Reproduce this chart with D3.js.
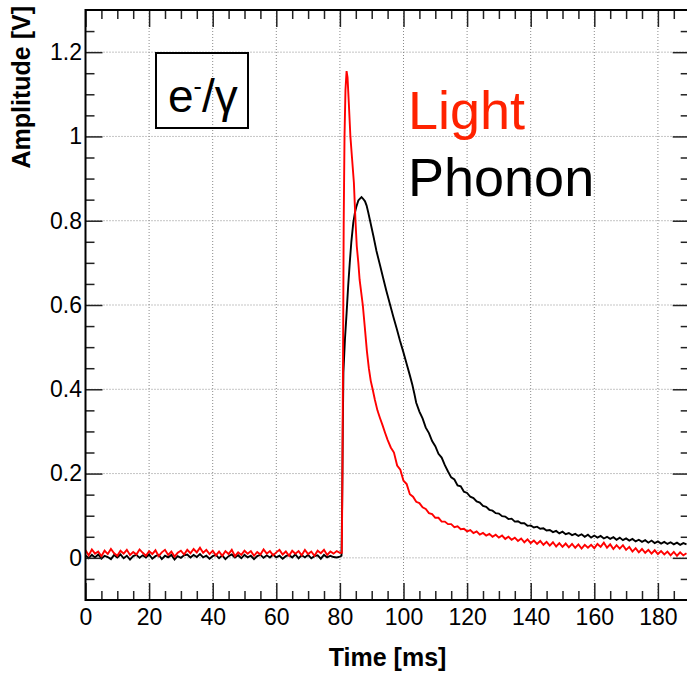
<!DOCTYPE html>
<html>
<head>
<meta charset="utf-8">
<script src="https://cdn.jsdelivr.net/npm/d3@7"></script>
<style>
    body { margin: 0; background: #fff; }
    text { font-family: "Liberation Sans", Arial, Helvetica, sans-serif; }
    .tick line { stroke: #222; stroke-width: 1.5; }
    .tick text { font-size: 23px; fill: #000; }
    .domain { display: none; }
</style>
</head>
<body>
<div id="chart"></div>
<script>
// axis ticks
const xMajor = [0, 20, 40, 60, 80, 100, 120, 140, 160, 180];
const xTickLabels = ["0", "20", "40", "60", "80", "100", "120", "140", "160", "180"];
const xMinor = [5, 10, 15, 25, 30, 35, 45, 50, 55, 65, 70, 75, 85, 90, 95, 105, 110, 115,
    125, 130, 135, 145, 150, 155, 165, 170, 175, 185];
const yMajor = [0, 0.2, 0.4, 0.6, 0.8, 1, 1.2];
const yTickLabels = ["0", "0.2", "0.4", "0.6", "0.8", "1", "1.2"];
const yMinor = [-0.05, 0.05, 0.1, 0.15, 0.25, 0.3, 0.35, 0.45, 0.5, 0.55, 0.65, 0.7, 0.75,
    0.85, 0.9, 0.95, 1.05, 1.1, 1.15, 1.25];

// light channel (red): baseline sampled every 1 ms from t = 0
const lightBase = [
    0.018, 0.006, 0.020, 0.010, 0.015, 0.004, 0.017, 0.009, 0.021, 0.011,
    0.005, 0.017, 0.010, 0.019, 0.007, 0.014, 0.008, 0.020, 0.012, 0.005,
    0.016, 0.009, 0.018, 0.004, 0.013, 0.019, 0.007, 0.015, 0.003, 0.012,
    0.017, 0.008, 0.019, 0.011, 0.021, 0.013, 0.024, 0.012, 0.019, 0.009,
    0.017, 0.006, 0.015, 0.005, 0.016, 0.009, 0.019, 0.004, 0.013, 0.007,
    0.017, 0.010, 0.016, 0.005, 0.014, 0.008, 0.020, 0.010, 0.016, 0.006,
    0.013, 0.019, 0.008, 0.015, 0.005, 0.017, 0.010, 0.016, 0.006, 0.019,
    0.009, 0.015, 0.005, 0.017, 0.011, 0.019, 0.007, 0.015, 0.010, 0.016,
    0.012];
// light pulse [t, V]
const lightPulse = [
    [80.6, 0.012], [80.8, 0.2], [81.0, 0.5], [81.2, 0.8], [81.45, 1.0], [81.75, 1.11],
    [82.1, 1.155], [82.4, 1.14], [82.8, 1.08], [83.3, 1.0], [83.8, 0.95], [84.4, 0.89],
    [84.9, 0.80], [85.3, 0.74], [85.8, 0.70], [86.2, 0.66], [86.7, 0.63], [87.2, 0.60],
    [87.8, 0.55], [88.5, 0.49], [89.1, 0.45], [89.7, 0.42], [90.3, 0.40], [91.0, 0.375],
    [91.8, 0.35], [92.6, 0.332], [93.4, 0.315], [94.2, 0.297], [95.0, 0.28]];
// light tail, every 1 ms from t = 96
const lightTailStart = 96;
const lightTail = [
    0.262, 0.250, 0.219, 0.209, 0.183, 0.175, 0.151, 0.145, 0.133, 0.130,
    0.120, 0.116, 0.106, 0.104, 0.095, 0.095, 0.086, 0.086, 0.080, 0.080,
    0.073, 0.075, 0.068, 0.069, 0.063, 0.066, 0.059, 0.063, 0.055, 0.059,
    0.053, 0.057, 0.050, 0.055, 0.048, 0.053, 0.045, 0.050, 0.043, 0.048,
    0.040, 0.046, 0.037, 0.044, 0.035, 0.041, 0.033, 0.040, 0.031, 0.038,
    0.029, 0.037, 0.027, 0.035, 0.026, 0.034, 0.025, 0.033, 0.024, 0.032,
    0.022, 0.031, 0.024, 0.031, 0.023, 0.033, 0.026, 0.036, 0.024, 0.032,
    0.021, 0.030, 0.022, 0.030, 0.019, 0.026, 0.015, 0.023, 0.013, 0.021,
    0.012, 0.019, 0.010, 0.018, 0.009, 0.016, 0.008, 0.015, 0.006, 0.014,
    0.005, 0.013, 0.006, 0.011];

// phonon channel (black)
const phononBase = [
    0.006, -0.001, 0.007, 0.001, 0.008, -0.002, 0.005, 0.002, -0.003, 0.007,
    0.001, 0.008, -0.001, 0.005, -0.004, 0.004, 0.007, 0.000, 0.006, 0.001,
    0.008, -0.002, 0.004, 0.007, -0.003, 0.005, 0.001, 0.007, -0.004, 0.004,
    0.000, 0.006, 0.008, 0.001, 0.007, 0.002, 0.009, 0.001, 0.005, -0.002,
    0.004, 0.007, -0.001, 0.006, -0.003, 0.004, 0.008, 0.001, 0.006, -0.001,
    0.007, 0.001, 0.005, -0.003, 0.004, 0.007, 0.000, 0.006, 0.001, 0.008,
    0.001, 0.005, -0.002, 0.004, 0.007, 0.001, 0.008, -0.001, 0.006, 0.001,
    0.007, -0.001, 0.004, 0.006, -0.002, 0.007, 0.001, 0.005, 0.002, 0.001,
    0.003];
const phononPulse = [
    [80.5, 0.005], [80.7, 0.12], [80.9, 0.3], [81.1, 0.44], [81.6, 0.52], [82.1, 0.58],
    [82.6, 0.645], [83.1, 0.70], [83.6, 0.75], [84.2, 0.795], [84.7, 0.818], [85.2, 0.834],
    [85.8, 0.848], [86.4, 0.853], [86.8, 0.856], [87.3, 0.852], [87.9, 0.846], [88.4, 0.836],
    [88.9, 0.82], [89.4, 0.803], [90.5, 0.765], [91.5, 0.728], [92.6, 0.695], [93.6, 0.664],
    [94.6, 0.634], [95.7, 0.603], [96.8, 0.572], [97.9, 0.543], [98.9, 0.515], [100.0, 0.487],
    [101.0, 0.46], [102.0, 0.433], [102.8, 0.41], [103.4, 0.39]];
const phononTailStart = 104;
const phononTail = [
    0.368, 0.347, 0.331, 0.309, 0.296, 0.277, 0.265, 0.247, 0.238, 0.220,
    0.205, 0.191, 0.186, 0.172, 0.170, 0.157, 0.154, 0.145, 0.142, 0.134,
    0.131, 0.123, 0.121, 0.114, 0.112, 0.106, 0.105, 0.099, 0.098, 0.092,
    0.093, 0.086, 0.087, 0.082, 0.082, 0.076, 0.077, 0.072, 0.074, 0.069,
    0.070, 0.065, 0.066, 0.061, 0.064, 0.058, 0.062, 0.056, 0.059, 0.054,
    0.057, 0.052, 0.056, 0.050, 0.055, 0.048, 0.053, 0.048, 0.052, 0.046,
    0.050, 0.045, 0.049, 0.043, 0.048, 0.042, 0.046, 0.041, 0.045, 0.039,
    0.043, 0.038, 0.042, 0.036, 0.041, 0.035, 0.039, 0.034, 0.038, 0.033,
    0.037, 0.032, 0.036, 0.031, 0.035, 0.032];

// glue the pieces of one trace together as [t, V] pairs
function trace(base, pulse, tailStart, tail) {
    let pts = base.map((v, i) => [i, v]);
    pts = pts.concat(pulse);
    pts = pts.concat(tail.map((v, i) => [tailStart + i, v]));
    return pts;
}
const lightData = trace(lightBase, lightPulse, lightTailStart, lightTail);
const phononData = trace(phononBase, phononPulse, phononTailStart, phononTail);

// canvas
const W = 687, H = 675;
const margin = {top: 10, left: 85.5};
const width = 604.2, height = 590;

const svg = d3.select("#chart").append("svg")
    .attr("width", W).attr("height", H);

const x = d3.scaleLinear().domain([0, 190]).range([margin.left, margin.left + width]);
const y = d3.scaleLinear().domain([-0.1, 1.3]).range([margin.top + height, margin.top]);

// dotted grid
svg.append("g").selectAll("line")
    .data(xMajor.slice(1))
    .join("line")
    .attr("x1", d => x(d)).attr("x2", d => x(d))
    .attr("y1", y(1.3)).attr("y2", y(-0.1))
    .attr("stroke", "#8a8a8a").attr("stroke-width", 1).attr("stroke-dasharray", "1,2");
svg.append("g").selectAll("line")
    .data(yMajor)
    .join("line")
    .attr("x1", x(0)).attr("x2", x(190))
    .attr("y1", d => y(d)).attr("y2", d => y(d))
    .attr("stroke", "#8a8a8a").attr("stroke-width", 1).attr("stroke-dasharray", "1,2");

// traces
const line = d3.line().x(d => x(d[0])).y(d => y(d[1]));
svg.append("path").datum(phononData)
    .attr("d", line).attr("fill", "none")
    .attr("stroke", "#000").attr("stroke-width", 1.9);
svg.append("path").datum(lightData)
    .attr("d", line).attr("fill", "none")
    .attr("stroke", "#ff0000").attr("stroke-width", 1.9);

// axes, ticks pointing inwards on all four sides
svg.append("g").attr("transform", `translate(0,${y(-0.1)})`)
    .call(d3.axisBottom(x).tickValues(xMajor).tickSize(-17).tickPadding(9)
        .tickFormat((d, i) => xTickLabels[i]));
svg.append("g").attr("transform", `translate(0,${y(-0.1)})`)
    .call(d3.axisBottom(x).tickValues(xMinor).tickSize(-9).tickFormat(""));
svg.append("g").attr("transform", `translate(0,${y(1.3)})`)
    .call(d3.axisTop(x).tickValues(xMajor).tickSize(-17).tickFormat(""));
svg.append("g").attr("transform", `translate(0,${y(1.3)})`)
    .call(d3.axisTop(x).tickValues(xMinor).tickSize(-9).tickFormat(""));

svg.append("g").attr("transform", `translate(${x(0)},0)`)
    .call(d3.axisLeft(y).tickValues(yMajor).tickSize(-17).tickPadding(3.5)
        .tickFormat((d, i) => yTickLabels[i]));
svg.append("g").attr("transform", `translate(${x(0)},0)`)
    .call(d3.axisLeft(y).tickValues(yMinor).tickSize(-9).tickFormat(""));
svg.append("g").attr("transform", `translate(${x(190)},0)`)
    .call(d3.axisRight(y).tickValues(yMajor).tickSize(-17).tickFormat(""));
svg.append("g").attr("transform", `translate(${x(190)},0)`)
    .call(d3.axisRight(y).tickValues(yMinor).tickSize(-9).tickFormat(""));

// frame
svg.append("rect")
    .attr("x", x(0)).attr("y", y(1.3))
    .attr("width", x(190) - x(0)).attr("height", y(-0.1) - y(1.3))
    .attr("fill", "none").attr("stroke", "#000").attr("stroke-width", 2);

// axis titles
svg.append("text")
    .attr("x", (x(0) + x(190)) / 2).attr("y", 666)
    .attr("text-anchor", "middle")
    .style("font-size", "25px").style("font-weight", "bold")
    .text("Time [ms]");
svg.append("text")
    .attr("transform", "translate(30,6) rotate(-90)")
    .attr("text-anchor", "end")
    .style("font-size", "25px").style("font-weight", "bold")
    .text("Amplitude [V]");

// particle label box
svg.append("rect")
    .attr("x", 156).attr("y", 53).attr("width", 92).attr("height", 75)
    .attr("fill", "none").attr("stroke", "#000").attr("stroke-width", 2);
const lab = svg.append("text").attr("x", 168).attr("y", 112).style("font-size", "46px");
lab.append("tspan").text("e");
lab.append("tspan").attr("dy", -17).style("font-size", "25px").text("-");
lab.append("tspan").attr("dy", 17).text("/γ");

// legend words
svg.append("text").attr("x", 408).attr("y", 129)
    .style("font-size", "54px").attr("fill", "#ff2200").text("Light");
svg.append("text").attr("x", 408).attr("y", 196)
    .style("font-size", "54px").attr("fill", "#000").text("Phonon");
</script>
</body>
</html>
